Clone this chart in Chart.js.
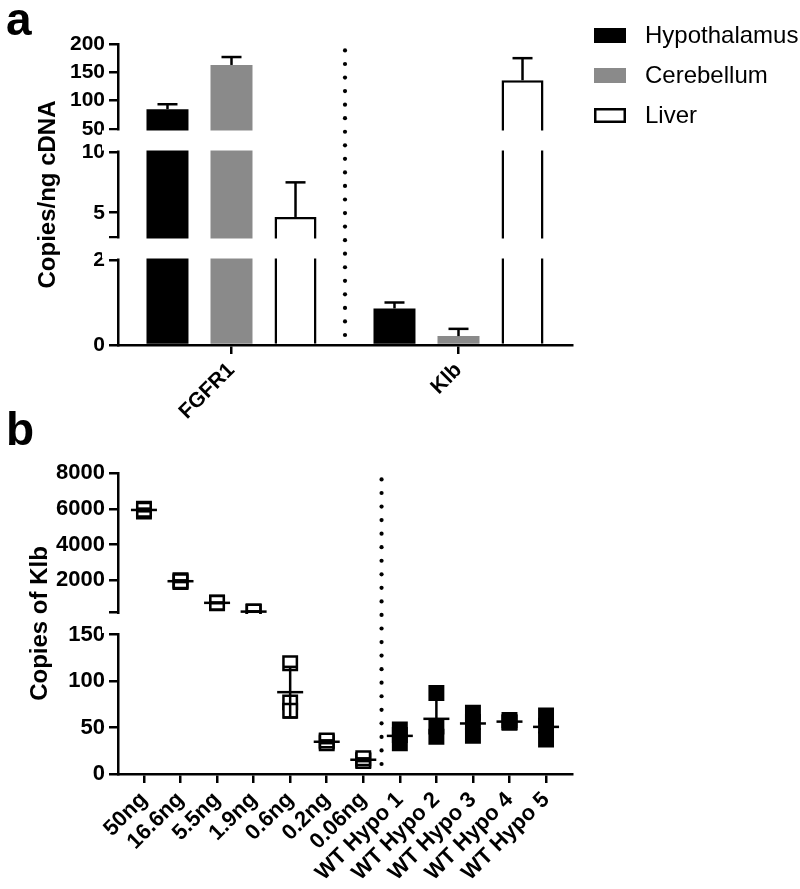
<!DOCTYPE html>
<html>
<head>
<meta charset="utf-8">
<script src="https://cdn.jsdelivr.net/npm/chart.js@4.4.0/dist/chart.umd.min.js"></script>
<style>
  html, body { margin: 0; padding: 0; background: #fff; }
  #wrap { position: relative; width: 800px; height: 889px; overflow: hidden; }
  canvas { position: absolute; left: 0; }
  #chartA { top: 0; }
  #chartB { top: 405px; }
</style>
</head>
<body>
<div id="wrap">
  <canvas id="chartA" width="800" height="430"></canvas>
  <canvas id="chartB" width="800" height="484"></canvas>
</div>
<script>
// ---- panel a: copies per ng cDNA (mean + SEM) ----
const genes = ['FGFR1', 'Klb'];
const hypoMean = [85, 0.86];
const hypoSem = [8.7, 0.14];
const cereMean = [163, 0.21];
const cereSem = [14, 0.17];
const liverMean = [4.65, 136];
const liverSem = [2.85, 39];
// broken y axis, segments from bottom to top
const aTicks = [[0, 2], [3, 5, 10], [50, 100, 150, 200]];
const aHidden = [3];

// ---- panel b: copies of Klb, standards and WT hypothalamus ----
const samples = ['50ng', '16.6ng', '5.5ng', '1.9ng', '0.6ng', '0.2ng', '0.06ng',
  'WT Hypo 1', 'WT Hypo 2', 'WT Hypo 3', 'WT Hypo 4', 'WT Hypo 5'];
const rep1 = [6000, 2000, 720, 250, 119, 35, 15, 48, 87, 66, 58, 63];
const rep2 = [5850, 1900, 760, 240, 77, 33, 14, 42, 51, 56, 56, 52];
const rep3 = [5950, 1950, 740, 260, 68, 36, 17, 33, 40, 41, 55, 37];
const nStandards = 7;
const bTicks = [[0, 50, 100, 150], [200, 2000, 4000, 6000, 8000]];
const bHidden = [200];

Chart.defaults.font.family = "'Liberation Sans', Arial, sans-serif";
Chart.defaults.color = '#000';
Chart.defaults.animation = false;

const tickFont = { size: 21, weight: 'bold' };
const tickFontB = { size: 22, weight: 'bold' };
const titleFont = { size: 24, weight: 'bold' };

// Linear scale cut into stacked segments with a fixed pixel gap between them
class BrokenScale extends Chart.LinearScale {
    determineDataLimits() {
        const segs = this.options.segments;
        const last = segs[segs.length - 1];
        this.min = segs[0][0];
        this.max = last[last.length - 1];
    }
    buildTicks() {
        return this.options.segments.flat().map(v => ({ value: v }));
    }
    bands() {
        const segs = this.options.segments;
        const gap = this.options.gap;
        const h = (this.bottom - this.top - gap * (segs.length - 1)) / segs.length;
        return segs.map((t, i) => {
            const bottom = this.bottom - i * (h + gap);
            return { lo: t[0], hi: t[t.length - 1], bottom: bottom, top: bottom - h };
        });
    }
    getPixelForValue(value) {
        if (value === null || isNaN(value)) return NaN;
        const b = this.bands();
        for (let i = 0; i < b.length; i++) {
            const s = b[i];
            if (i > 0 && value < s.lo) {
                const p = b[i - 1];
                return p.top - (value - p.hi) / (s.lo - p.hi) * (p.top - s.bottom);
            }
            if (value <= s.hi || i === b.length - 1) {
                return s.bottom - (value - s.lo) / (s.hi - s.lo) * (s.bottom - s.top);
            }
        }
        return NaN;
    }
    getValueForPixel(pixel) {
        const b = this.bands();
        for (let i = 0; i < b.length; i++) {
            const s = b[i];
            if (pixel >= s.top || i === b.length - 1) {
                return s.lo + (s.bottom - pixel) / (s.bottom - s.top) * (s.hi - s.lo);
            }
            if (i + 1 < b.length && pixel > b[i + 1].bottom) {
                const n = b[i + 1];
                return s.hi + (s.top - pixel) / (s.top - n.bottom) * (n.lo - s.hi);
            }
        }
        return NaN;
    }
}
BrokenScale.id = 'broken';
BrokenScale.defaults = {};
Chart.register(BrokenScale);

function line(ctx, x1, y1, x2, y2) {
    ctx.beginPath();
    ctx.moveTo(x1, y1);
    ctx.lineTo(x2, y2);
    ctx.stroke();
}

// White out the gaps of the broken axis
function drawGaps(chart) {
    const { ctx, chartArea } = chart;
    const bands = chart.scales.y.bands();
    ctx.save();
    ctx.fillStyle = '#fff';
    for (let i = 1; i < bands.length; i++) {
        const top = bands[i].bottom + 1.5;
        const bottom = bands[i - 1].top - 1.5;
        ctx.fillRect(chartArea.left - 16, top, chartArea.right - chartArea.left + 20, bottom - top);
    }
    ctx.restore();
}

// Dotted separator between groups
function drawDivider(chart, xPix) {
    const { ctx, chartArea } = chart;
    ctx.save();
    ctx.fillStyle = '#000';
    for (let y = chartArea.bottom - 10; y >= chartArea.top - 5; y -= 13.55) {
        ctx.beginPath();
        ctx.arc(xPix, y, 2.1, 0, Math.PI * 2);
        ctx.fill();
    }
    ctx.restore();
}

function drawLetter(chart, letter, y) {
    const ctx = chart.ctx;
    ctx.save();
    ctx.font = "bold 46px 'Liberation Sans', Arial, sans-serif";
    ctx.fillStyle = '#000';
    ctx.textBaseline = 'alphabetic';
    ctx.fillText(letter, 6, y);
    ctx.restore();
}

const panelAPlugin = {
    id: 'panelA',
    afterDatasetsDraw(chart) {
        const { ctx } = chart;
        const y = chart.scales.y;
        const x = chart.scales.x;
        drawGaps(chart);

        // SEM error bars (upper only)
        ctx.save();
        ctx.strokeStyle = '#000';
        ctx.lineWidth = 2.5;
        chart.data.datasets.forEach((ds, di) => {
            chart.getDatasetMeta(di).data.forEach((bar, i) => {
                const base = y.getPixelForValue(ds.data[i]);
                const top = y.getPixelForValue(ds.data[i] + ds.sem[i]);
                line(ctx, bar.x, base, bar.x, top);
                line(ctx, bar.x - 10, top, bar.x + 10, top);
            });
        });
        ctx.restore();

        drawDivider(chart, (x.getPixelForValue(0) + x.getPixelForValue(1)) / 2);
    },
    afterDraw(chart) {
        const { ctx } = chart;
        drawLetter(chart, 'a', 35);

        // legend
        ctx.save();
        ctx.font = "24px 'Liberation Sans', Arial, sans-serif";
        ctx.textBaseline = 'middle';
        chart.data.datasets.forEach((ds, i) => {
            const top = 28 + i * 40;
            ctx.fillStyle = ds.borderWidth ? ds.borderColor : ds.backgroundColor;
            ctx.fillRect(594, top, 32, 15);
            if (ds.borderWidth) {
                ctx.fillStyle = ds.backgroundColor;
                ctx.fillRect(594 + ds.borderWidth, top + ds.borderWidth, 32 - 2 * ds.borderWidth, 15 - 2 * ds.borderWidth);
            }
            ctx.fillStyle = '#000';
            ctx.fillText(ds.label, 645, top + 8);
        });
        ctx.restore();
    }
};

const panelBPlugin = {
    id: 'panelB',
    afterDatasetsDraw(chart) {
        const { ctx } = chart;
        const y = chart.scales.y;
        const x = chart.scales.x;
        drawGaps(chart);

        // mean and SD
        ctx.save();
        ctx.strokeStyle = '#000';
        ctx.lineWidth = 2.5;
        samples.forEach((s, i) => {
            const vals = [rep1[i], rep2[i], rep3[i]];
            const m = vals.reduce((a, b) => a + b, 0) / vals.length;
            const sd = Math.sqrt(vals.reduce((a, b) => a + (b - m) * (b - m), 0) / (vals.length - 1));
            const px = x.getPixelForValue(i);
            const pm = y.getPixelForValue(m);
            const pHi = y.getPixelForValue(m + sd);
            const pLo = y.getPixelForValue(m - sd);
            line(ctx, px - 13, pm, px + 13, pm);
            line(ctx, px, pLo, px, pHi);
            line(ctx, px - 7, pHi, px + 7, pHi);
            line(ctx, px - 7, pLo, px + 7, pLo);
        });
        ctx.restore();

        drawDivider(chart, x.getPixelForValue(nStandards - 0.5));
    },
    afterDraw(chart) {
        drawLetter(chart, 'b', 40);
    }
};

// ---- chart a ----
new Chart(document.getElementById('chartA'), {
    type: 'bar',
    data: {
        labels: genes,
        datasets: [
            { label: 'Hypothalamus', data: hypoMean, sem: hypoSem, backgroundColor: '#000', borderWidth: 0 },
            { label: 'Cerebellum', data: cereMean, sem: cereSem, backgroundColor: '#8a8a8a', borderWidth: 0 },
            { label: 'Liver', data: liverMean, sem: liverSem, backgroundColor: '#fff', borderColor: '#000', borderWidth: 2.5 }
        ]
    },
    options: {
        responsive: false,
        devicePixelRatio: 1,
        categoryPercentage: 0.846,
        barPercentage: 0.656,
        layout: { padding: { top: 44, left: 34, right: 228, bottom: 0 } },
        plugins: {
            legend: { display: false },
            tooltip: { enabled: false }
        },
        scales: {
            x: {
                afterFit: s => { s.height = 85; },
                border: { display: true, color: '#000', width: 2.5 },
                grid: { offset: false, drawOnChartArea: false, color: '#000', lineWidth: 2.5, tickLength: 9 },
                ticks: { autoSkip: false, minRotation: 45, maxRotation: 45, padding: 4, font: tickFont }
            },
            y: {
                type: 'broken',
                segments: aTicks,
                gap: 23,
                afterFit: s => { s.width = 84; },
                border: { display: true, color: '#000', width: 2.5 },
                grid: { drawOnChartArea: false, color: '#000', lineWidth: 2.5, tickLength: 9 },
                ticks: { autoSkip: false, padding: 4, font: tickFont, callback: v => aHidden.includes(v) ? '' : v },
                title: { display: true, text: 'Copies/ng cDNA', font: titleFont, padding: 0 }
            }
        }
    },
    plugins: [panelAPlugin]
});

// ---- chart b ----
function points(from, to) {
    const out = [];
    for (let i = from; i < to; i++) {
        [rep1[i], rep2[i], rep3[i]].forEach(v => out.push({ x: i, y: v }));
    }
    return out;
}

new Chart(document.getElementById('chartB'), {
    type: 'scatter',
    data: {
        datasets: [
            {
                label: 'Standards',
                data: points(0, nStandards),
                pointStyle: 'rect', pointRadius: 9.5, borderWidth: 2.5,
                backgroundColor: '#fff', borderColor: '#000'
            },
            {
                label: 'WT',
                data: points(nStandards, samples.length),
                pointStyle: 'rect', pointRadius: 9.5, borderWidth: 2.5,
                backgroundColor: '#000', borderColor: '#000'
            }
        ]
    },
    options: {
        responsive: false,
        devicePixelRatio: 1,
        layout: { padding: { top: 68, left: 26, right: 228, bottom: 0 } },
        plugins: {
            legend: { display: false },
            tooltip: { enabled: false }
        },
        scales: {
            x: {
                type: 'linear',
                min: -0.71,
                max: 11.71,
                afterBuildTicks: s => { s.ticks = samples.map((_, i) => ({ value: i })); },
                afterFit: s => { s.height = 115; },
                border: { display: true, color: '#000', width: 2.5 },
                grid: { drawOnChartArea: false, color: '#000', lineWidth: 2.5, tickLength: 9 },
                ticks: { autoSkip: false, minRotation: 45, maxRotation: 45, padding: 4, font: tickFontB, callback: v => samples[v] }
            },
            y: {
                type: 'broken',
                segments: bTicks,
                gap: 22,
                afterFit: s => { s.width = 92; },
                border: { display: true, color: '#000', width: 2.5 },
                grid: { drawOnChartArea: false, color: '#000', lineWidth: 2.5, tickLength: 9 },
                ticks: { autoSkip: false, padding: 4, font: tickFontB, callback: v => bHidden.includes(v) ? '' : v },
                title: { display: true, text: 'Copies of Klb', font: titleFont, padding: 0 }
            }
        }
    },
    plugins: [panelBPlugin]
});
</script>
</body>
</html>
